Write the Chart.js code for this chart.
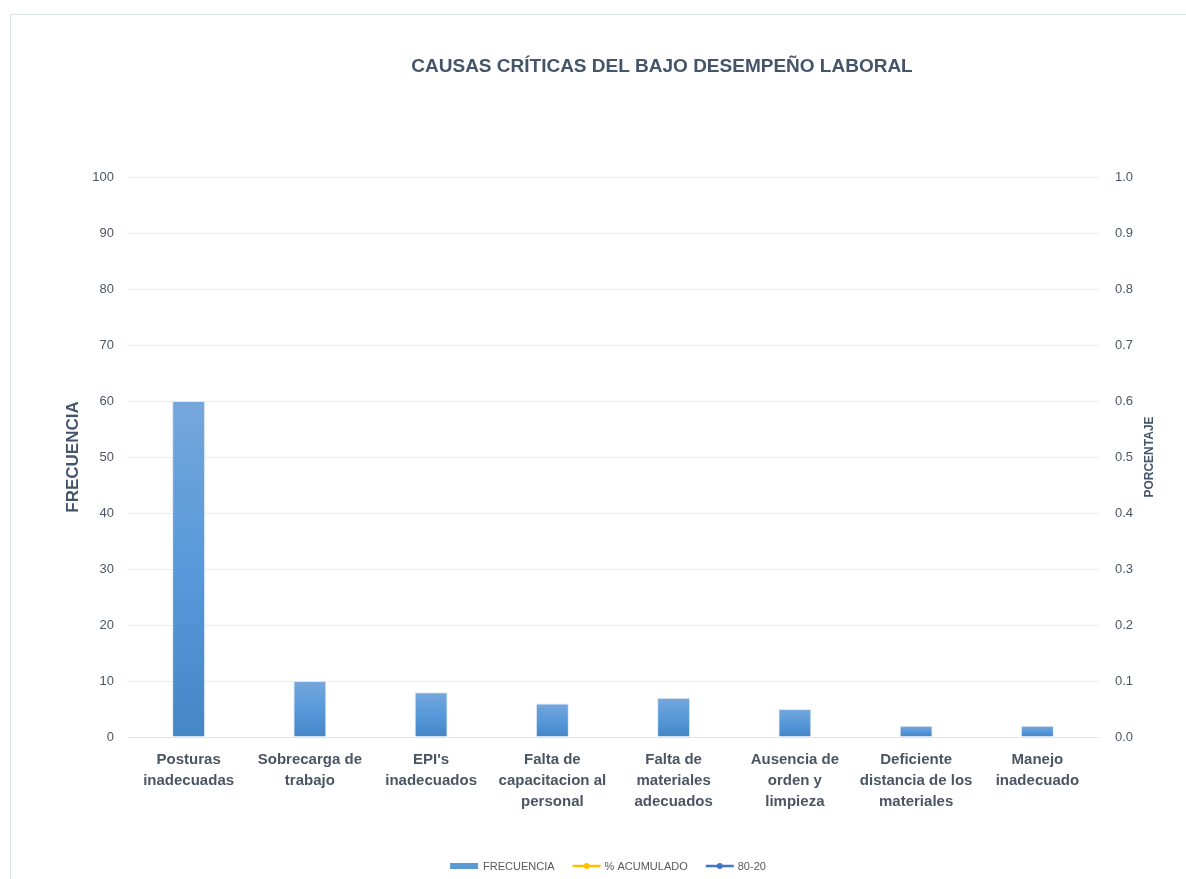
<!DOCTYPE html>
<html>
<head>
<meta charset="utf-8">
<script src="https://cdn.jsdelivr.net/npm/chart.js@4"></script>
<style>
  html, body { margin: 0; padding: 0; background: #fff; }
  body { width: 1186px; height: 879px; position: relative; overflow: hidden; }
  #frame { position: absolute; left: 10px; top: 14px; width: 1200px; height: 900px; border: 1px solid #dde3ea; }
  #wrap { position: absolute; left: 0; top: 0; width: 1186px; height: 879px; }
</style>
</head>
<body>
<div id="frame"></div>
<div id="wrap"><canvas id="paretoChart"></canvas></div>
<script>
// data
const titleText = "CAUSAS CRÍTICAS DEL BAJO DESEMPEÑO LABORAL";
const categories = [
    ["Posturas", "inadecuadas"],
    ["Sobrecarga de", "trabajo"],
    ["EPI's", "inadecuados"],
    ["Falta de", "capacitacion al", "personal"],
    ["Falta de", "materiales", "adecuados"],
    ["Ausencia de", "orden y", "limpieza"],
    ["Deficiente", "distancia de los", "materiales"],
    ["Manejo", "inadecuado"]
];
const frecuencia = [60, 10, 8, 6, 7, 5, 2, 2];
const acumulado = [];   // no visible points in the picture
const regla8020 = [];   // no visible points in the picture
const leftTicks = { min: 0, max: 100, step: 10 };
const rightTicks = { min: 0, max: 1, step: 0.1 };

const FONT = "'Liberation Sans', Arial, sans-serif";
const SLATE = "#44546a";
const GREY = "#595959";

// each bar gets its own light-to-dark gradient
function barGradient(context) {
    const chart = context.chart;
    const { ctx, chartArea, scales } = chart;
    if (!chartArea || context.parsed === undefined) return "#5b9bd5";
    const top = scales.y.getPixelForValue(context.parsed.y);
    const bottom = scales.y.getPixelForValue(0);
    const g = ctx.createLinearGradient(0, top, 0, bottom);
    g.addColorStop(0, "#76a7dc");
    g.addColorStop(0.5, "#5799da");
    g.addColorStop(1, "#4486c6");
    return g;
}

// title, axis titles and legend
const decorations = {
    id: "decorations",
    afterDraw(chart) {
        const ctx = chart.ctx;
        const area = chart.chartArea;
        const midY = (area.top + area.bottom) / 2;
        ctx.save();
        ctx.fillStyle = SLATE;
        ctx.textAlign = "center";
        ctx.textBaseline = "middle";
        ctx.font = "bold 19px " + FONT;
        ctx.fillText(titleText, 662, 67);

        ctx.save();
        ctx.translate(73, midY);
        ctx.rotate(-Math.PI / 2);
        ctx.font = "bold 17px " + FONT;
        ctx.fillText("FRECUENCIA", 0, 0);
        ctx.restore();

        ctx.save();
        ctx.translate(1150, midY);
        ctx.rotate(-Math.PI / 2);
        ctx.font = "bold 12px " + FONT;
        ctx.fillText("PORCENTAJE", 0, 0);
        ctx.restore();

        // legend
        ctx.font = "11px " + FONT;
        ctx.textAlign = "left";
        const y = 866;
        const items = chart.data.datasets.map(ds => ({
            label: ds.label,
            type: ds.type || "bar",
            color: ds.legendColor
        }));
        const swatchW = 30, gap = 3, between = 17;
        let total = 0;
        items.forEach(it => { it.w = swatchW + gap + ctx.measureText(it.label).width; total += it.w; });
        total += between * (items.length - 1);
        let x = 608 - total / 2;
        items.forEach(it => {
            if (it.type === "bar") {
                ctx.fillStyle = it.color;
                ctx.fillRect(x, y - 3, 28, 6);
            } else {
                ctx.strokeStyle = it.color;
                ctx.lineWidth = 2.5;
                ctx.beginPath();
                ctx.moveTo(x + 1, y);
                ctx.lineTo(x + swatchW - 1, y);
                ctx.stroke();
                ctx.fillStyle = it.color;
                ctx.beginPath();
                ctx.arc(x + swatchW / 2, y, 3, 0, Math.PI * 2);
                ctx.fill();
            }
            ctx.fillStyle = GREY;
            ctx.fillText(it.label, x + swatchW + gap, y + 1);
            x += it.w + between;
        });
        ctx.restore();
    }
};

const ctx = document.getElementById("paretoChart").getContext("2d");
new Chart(ctx, {
    data: {
        labels: categories,
        datasets: [
            { type: "bar", label: "FRECUENCIA", data: frecuencia, yAxisID: "y",
              backgroundColor: barGradient, borderColor: "rgba(220,232,246,0.9)", borderWidth: 1,
              barPercentage: 0.272, categoryPercentage: 1, legendColor: "#5b9bd5", order: 2 },
            { type: "line", label: "% ACUMULADO", data: acumulado, yAxisID: "y1",
              borderColor: "#ffc000", backgroundColor: "#ffc000", legendColor: "#ffc000", order: 1 },
            { type: "line", label: "80-20", data: regla8020, yAxisID: "y1",
              borderColor: "#4472c4", backgroundColor: "#4472c4", legendColor: "#4472c4", order: 0 }
        ]
    },
    options: {
        responsive: true,
        maintainAspectRatio: false,
        animation: false,
        layout: { padding: { left: 14, top: 177, right: 0, bottom: 0 } },
        plugins: { legend: { display: false }, title: { display: false }, tooltip: { enabled: false } },
        scales: {
            x: {
                grid: { display: false, drawTicks: false },
                border: { display: true, color: "#dfe5ec", width: 1 },
                ticks: { color: "#4b5563", font: { family: FONT, size: 15, weight: "bold", lineHeight: 1.4 },
                         padding: 12, maxRotation: 0, autoSkip: false },
                afterFit: s => { s.height = 142; }
            },
            y: {
                position: "left",
                min: leftTicks.min, max: leftTicks.max,
                grid: { color: "#ececec", drawTicks: false },
                border: { display: false },
                ticks: { stepSize: leftTicks.step, color: "#4d5666", padding: 14, font: { family: FONT, size: 13 } },
                afterFit: s => { s.width = 114; }
            },
            y1: {
                position: "right",
                min: rightTicks.min, max: rightTicks.max,
                grid: { display: false, drawTicks: false },
                border: { display: false },
                ticks: { stepSize: rightTicks.step, color: "#4d5666", padding: 17, font: { family: FONT, size: 13 },
                         callback: v => Number(v).toFixed(1) },
                afterFit: s => { s.width = 88; }
            }
        }
    },
    plugins: [decorations]
});
</script>
</body>
</html>
